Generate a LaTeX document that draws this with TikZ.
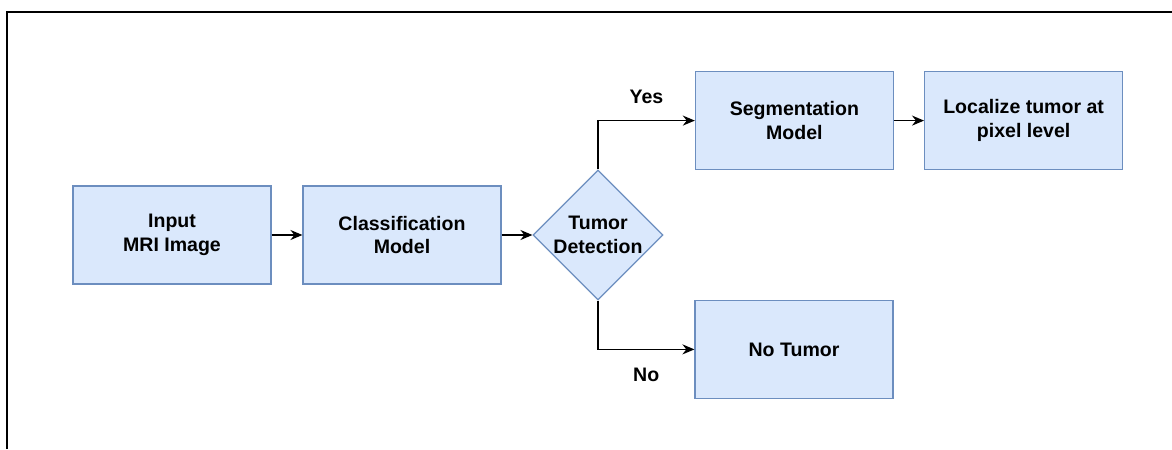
\documentclass[tikz,border=0pt]{standalone}
\usepackage{fontspec}
\setmainfont{Liberation Sans}
\usepackage{xcolor}
\usepackage{tikz}
\usetikzlibrary{shapes.geometric, arrows.meta, positioning}

\definecolor{boxfill}{HTML}{DAE8FC}
\definecolor{boxline}{HTML}{6C8EBF}

\begin{document}
\begin{tikzpicture}[>={Stealth[length=0.3cm, width=0.25cm]},
    block/.style={draw=boxline, fill=boxfill, line width=0.8pt, minimum width=4.95cm,
        minimum height=2.45cm, align=center, font=\fontsize{13.9}{17}\selectfont\bfseries},
    decision/.style={diamond, draw=boxline, fill=boxfill, line width=0.8pt, inner sep=0pt,
        minimum width=3.25cm, minimum height=3.25cm, align=center,
        font=\fontsize{13.9}{17}\selectfont\bfseries},
    flow/.style={->, line width=1.2pt, black},
    lbl/.style={font=\fontsize{13.9}{17}\selectfont\bfseries}]
        \useasboundingbox (0,0) rectangle (29.3,11.225);

        % Frame
        \draw[line width=1.4pt] (0.175,0) -- (0.175,10.925) -- (29.3,10.925);

        % Main row
        \node[block] (input) at (4.3,5.35) {Input\\MRI Image};
        \node[block] (classify) at (10.05,5.35) {Classification\\Model};
        \node[decision] (detect) at (14.95,5.35) {Tumor\\Detection};

        % Outcomes
        \node[block] (segment) at (19.86,8.21) {Segmentation\\Model};
        \node[block] (localize) at (25.59,8.21) {Localize tumor at\\pixel level};
        \node[block] (notumor) at (19.85,2.49) {No Tumor};

        % Connectors
        \draw[flow] (input) -- (classify);
        \draw[flow] (classify) -- (detect);
        \draw[flow] (detect.north) |- (segment.west)
        node[lbl, pos=0.75, yshift=0.6cm] {Yes};
        \draw[flow] (detect.south) |- (notumor.west)
        node[lbl, pos=0.75, yshift=-0.63cm] {No};
        \draw[flow] (segment) -- (localize);
    \end{tikzpicture}
\end{document}
